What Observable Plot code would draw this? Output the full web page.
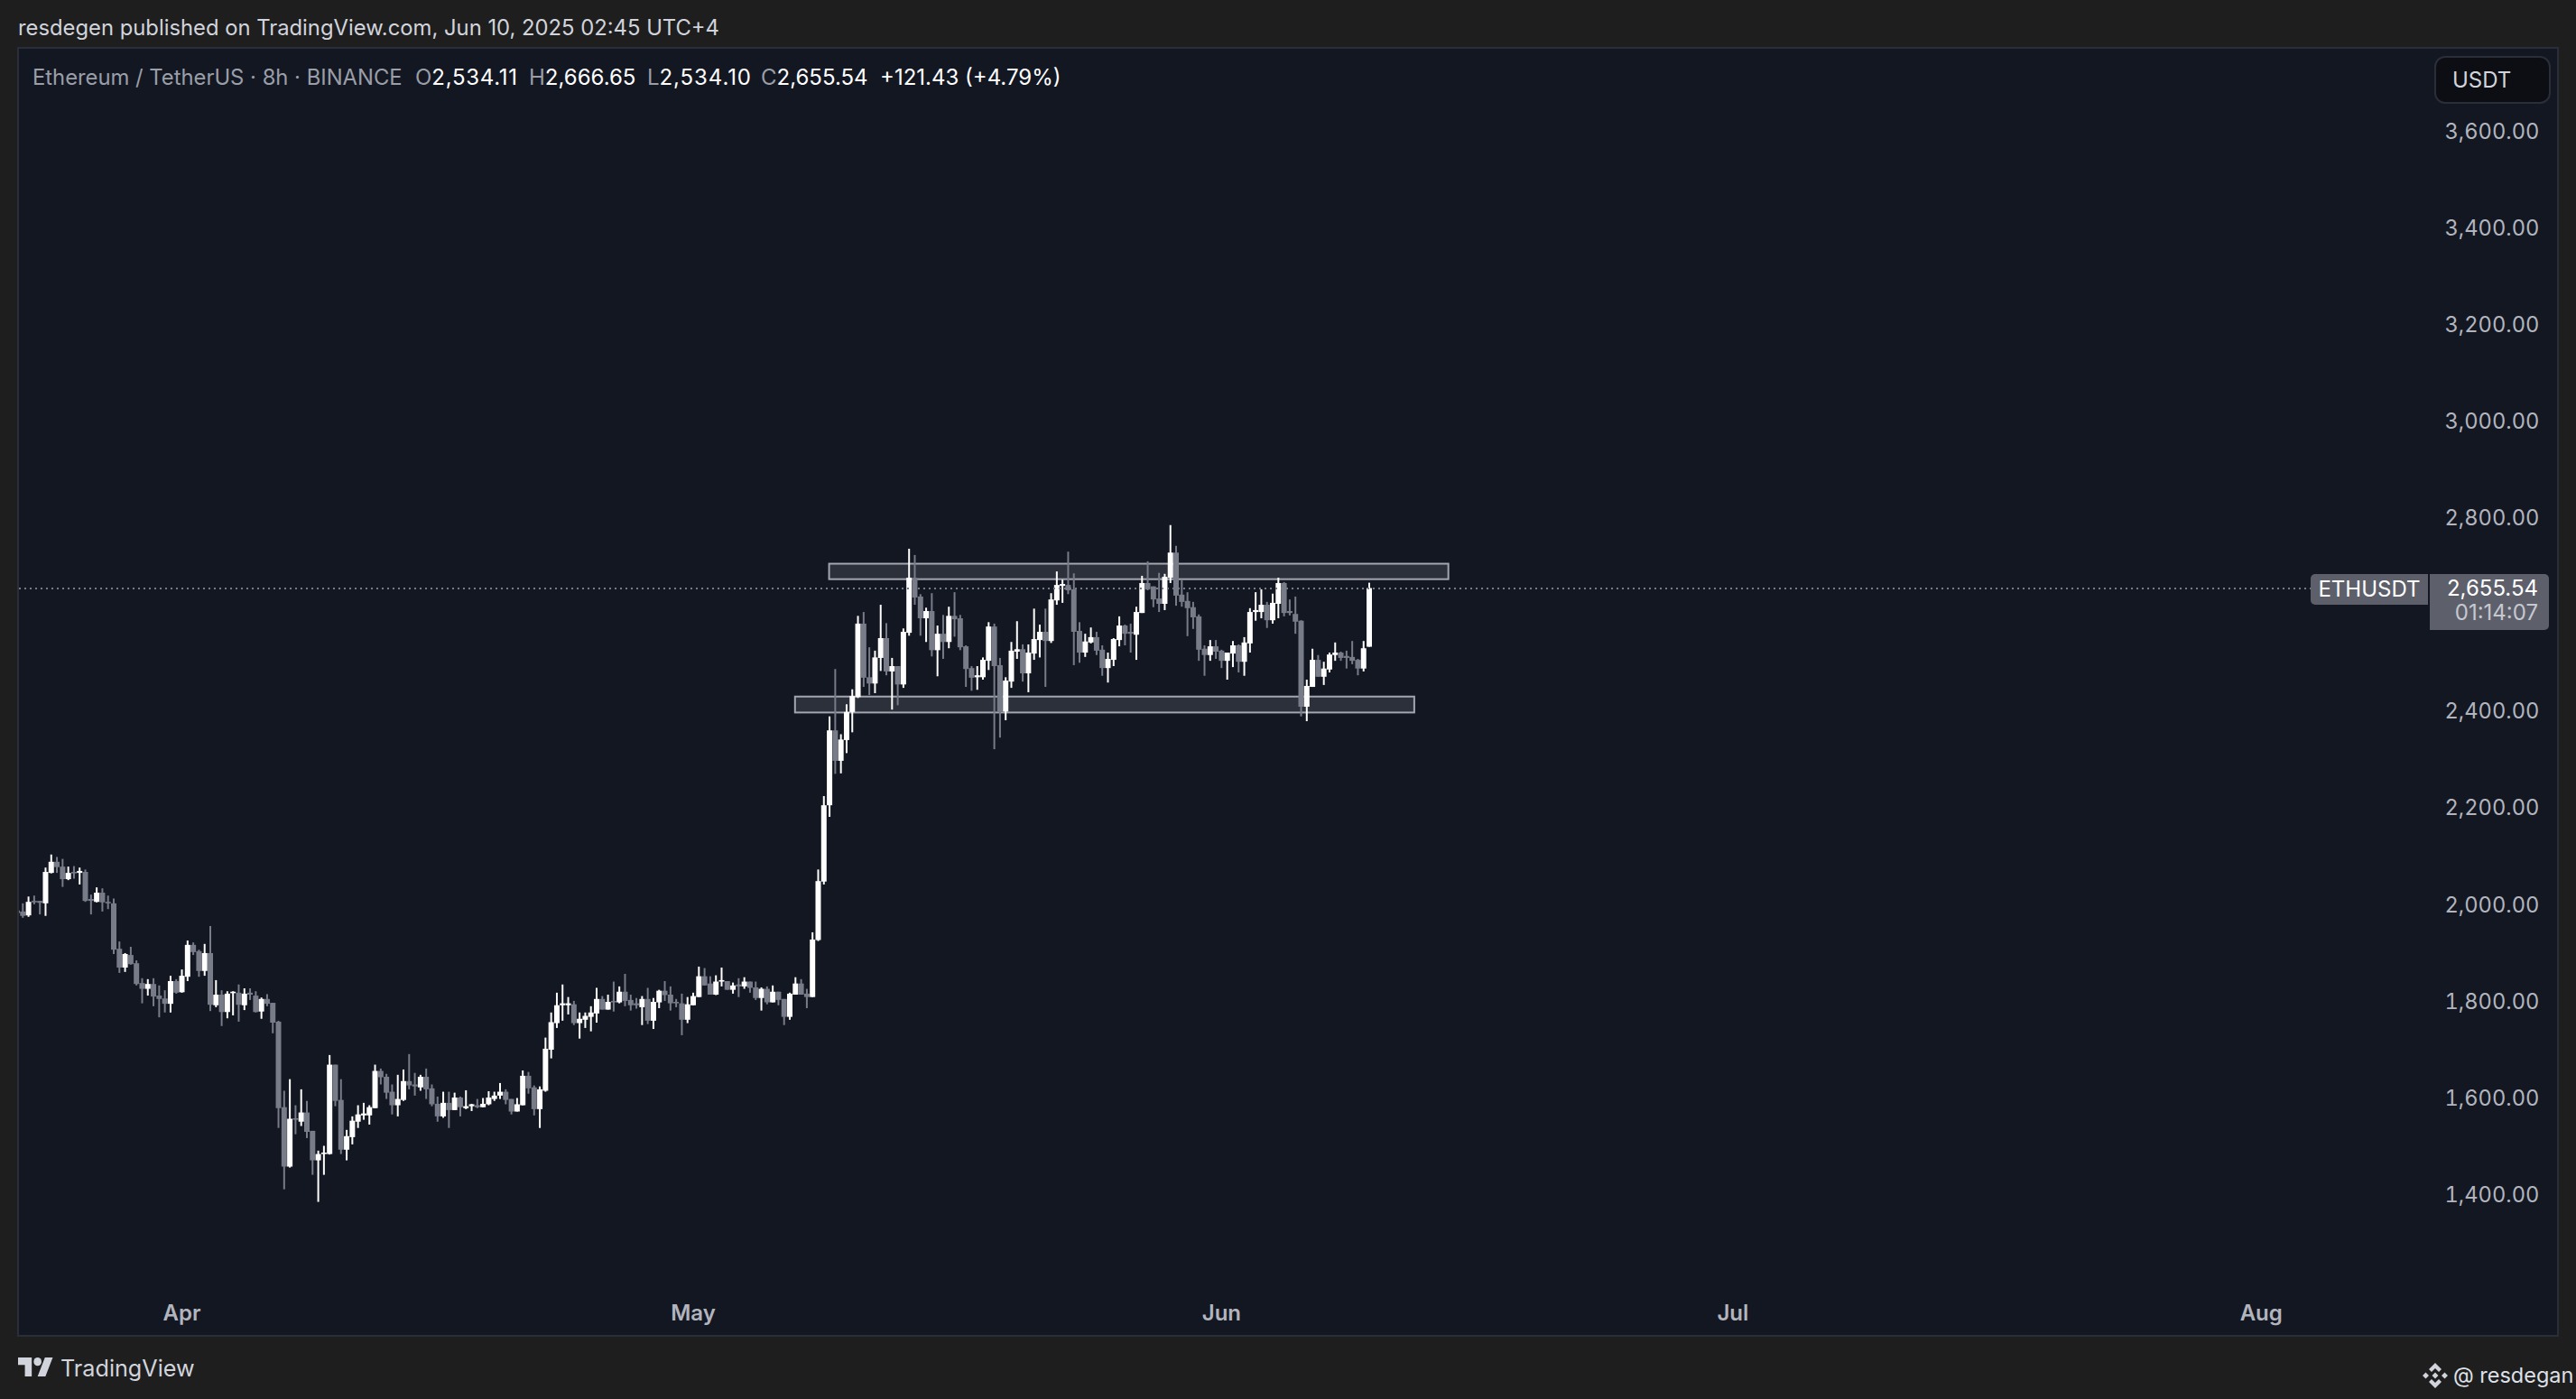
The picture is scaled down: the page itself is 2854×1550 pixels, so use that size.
<!DOCTYPE html>
<html>
<head>
<meta charset="utf-8">
<script src="https://cdn.jsdelivr.net/npm/d3@7"></script>
<script src="https://cdn.jsdelivr.net/npm/@observablehq/plot@0.6"></script>
<style>
html,body{margin:0;padding:0;background:#1e1e1e;width:2854px;height:1550px;overflow:hidden;font-family:Inter,"Liberation Sans",sans-serif;}
#panel{position:absolute;left:19px;top:52px;width:2812px;height:1425px;border:2px solid #2a2e39;background:#131722;}
#panel svg{display:block;}
.abs{position:absolute;white-space:nowrap;}
#pub{left:20px;top:16px;font-size:23.8px;line-height:30px;color:#d1d4dc;}
.leg{top:71px;font-size:24px;line-height:30px;color:#ffffff;}
.mut{color:#9a9ea8;}
#usdt{left:2697px;top:62px;width:125px;height:49px;border:2px solid #2a2e39;border-radius:12px;background:#0c0e13;color:#d1d4dc;font-size:24px;line-height:49px;text-indent:18px;}
#sym{left:2560px;top:636px;width:130px;height:34px;background:#5d606b;border-radius:5px 0 0 5px;color:#fff;font-size:24px;line-height:34px;text-align:center;}
#tag{left:2692px;top:636px;width:132px;height:62px;background:#5d606b;border-radius:0 5px 5px 0;}
#tag div{position:absolute;right:12px;font-size:24px;line-height:26px;}
#tv{left:67px;top:1499px;font-size:25.2px;line-height:34px;color:#d1d4dc;}
#who{left:2718px;top:1507px;font-size:23.5px;line-height:34px;color:#dfe1e8;}
</style>
</head>
<body>
<div class="abs" id="pub">resdegen published on TradingView.com, Jun 10, 2025 02:45 UTC+4</div>
<div id="panel"></div>
<div class="abs leg mut" style="left:36px;font-size:23.8px">Ethereum / TetherUS · 8h · BINANCE</div>
<div class="abs leg" style="left:460px"><span class="mut">O</span><span style="letter-spacing:.7px">2,534.11</span></div>
<div class="abs leg" style="left:586px"><span class="mut">H</span>2,666.65</div>
<div class="abs leg" style="left:717px"><span class="mut">L</span><span style="letter-spacing:.9px">2,534.10</span></div>
<div class="abs leg" style="left:843px"><span class="mut">C</span>2,655.54</div>
<div class="abs leg" style="left:975px">+121.43 (+4.79%)</div>
<div class="abs" id="usdt">USDT</div>
<div class="abs" id="sym">ETHUSDT</div>
<div class="abs" id="tag"><div style="top:3px;color:#fff">2,655.54</div><div style="top:30px;color:#c6c8d0">01:14:07</div></div>
<svg class="abs" style="left:20px;top:1504px" width="39" height="21" viewBox="0 4 36 18" preserveAspectRatio="none"><path fill="#d1d4dc" d="M14 22H7V11H0V4h14v18zM28 22h-8l7.5-18h8L28 22z"/><circle fill="#d1d4dc" cx="20" cy="8" r="4"/></svg>
<div class="abs" id="tv">TradingView</div>
<svg class="abs" style="left:2684px;top:1510px" width="28" height="28" viewBox="0 0 28 28"><path fill="#d1d4dc" d="M14 0 L21 7 L18 10 L14 6 L10 10 L7 7 Z M14 28 L7 21 L10 18 L14 22 L18 18 L21 21 Z M14 10.500 L17.500 14 L14 17.500 L10.500 14 Z M3.500 10.500 L7 14 L3.500 17.500 L0 14 Z M24.500 10.500 L28 14 L24.500 17.500 L21 14 Z"/></svg>
<div class="abs" id="who">@ resdegan</div>
<script>
const startTime = "2025-03-22T08:00:00Z";
const opens = [
1988,1986,1978,2008,2008,2003,2066,2089,2079,2053,
2068,2066,2068,2012,2006,2025,2006,2003,1909,1870,
1896,1879,1838,1826,1836,1812,1806,1795,1842,1819,
1851,1917,1904,1863,1900,1792,1814,1778,1817,1818,
1792,1818,1812,1779,1805,1797,1758,1581,1458,1558,
1551,1570,1532,1471,1484,1484,1669,1596,1493,1519,
1551,1564,1564,1579,1656,1644,1613,1585,1596,1635,
1628,1622,1644,1620,1588,1562,1590,1575,1601,1579,
1583,1585,1581,1587,1598,1605,1613,1598,1572,1585,
1646,1622,1577,1615,1700,1755,1792,1792,1794,1755,
1762,1768,1775,1805,1783,1801,1798,1820,1803,1796,
1788,1805,1760,1798,1822,1814,1799,1796,1762,1792,
1809,1852,1837,1814,1841,1842,1824,1835,1831,1841,
1829,1807,1826,1798,1820,1805,1768,1814,1837,1816,
1809,1927,2048,2206,2361,2298,2341,2399,2430,2582,
2471,2458,2511,2552,2483,2494,2456,2563,2677,2638,
2593,2608,2527,2561,2544,2598,2593,2535,2490,2471,
2471,2505,2576,2496,2400,2462,2524,2529,2479,2520,
2548,2565,2546,2630,2660,2662,2653,2567,2522,2543,
2554,2528,2490,2507,2548,2578,2565,2559,2604,2666,
2659,2634,2623,2677,2729,2642,2629,2616,2597,2530,
2517,2535,2526,2505,2520,2537,2503,2541,2606,2606,
2621,2589,2623,2666,2608,2602,2588,2410,2451,2507,
2472,2487,2517,2522,2515,2513,2507,2489,2534.11];
const highs = [
1990,2003,2017,2019,2008,2077,2104,2099,2095,2079,
2080,2077,2073,2021,2036,2034,2019,2013,1924,1900,
1913,1885,1848,1846,1848,1833,1823,1853,1846,1866,
1926,1922,1907,1919,1956,1844,1823,1821,1821,1835,
1827,1827,1821,1808,1815,1797,1760,1615,1639,1585,
1618,1594,1532,1491,1501,1689,1669,1639,1534,1562,
1585,1590,1585,1669,1661,1650,1628,1648,1659,1691,
1652,1648,1661,1628,1603,1613,1613,1611,1603,1616,
1588,1598,1600,1614,1613,1631,1618,1598,1600,1657,
1654,1626,1624,1725,1777,1818,1835,1809,1801,1777,
1777,1790,1828,1811,1814,1841,1831,1857,1814,1807,
1811,1828,1807,1824,1842,1831,1805,1816,1809,1818,
1872,1869,1852,1854,1870,1842,1839,1848,1850,1841,
1841,1829,1831,1833,1820,1805,1818,1850,1846,1826,
1943,2073,2225,2390,2488,2353,2415,2446,2598,2606,
2533,2526,2621,2583,2511,2494,2572,2737,2724,2643,
2615,2645,2578,2600,2617,2647,2600,2537,2494,2494,
2512,2585,2582,2511,2471,2544,2587,2539,2539,2613,
2580,2613,2645,2690,2673,2731,2686,2585,2561,2574,
2565,2537,2522,2552,2597,2580,2582,2617,2681,2711,
2659,2687,2685,2786,2743,2672,2647,2627,2601,2537,
2548,2548,2528,2522,2546,2539,2554,2614,2647,2653,
2627,2644,2677,2668,2632,2638,2589,2466,2530,2517,
2503,2522,2543,2524,2526,2546,2509,2546,2666.65];
const lows = [
1982,1973,1975,2001,1980,1977,2065,2066,2037,2051,
2054,2042,2006,1980,2005,1986,1991,1898,1859,1861,
1876,1833,1796,1812,1790,1767,1777,1777,1816,1818,
1842,1896,1851,1853,1780,1788,1749,1765,1771,1758,
1782,1803,1777,1764,1790,1734,1538,1411,1456,1525,
1542,1517,1441,1385,1441,1483,1583,1484,1471,1504,
1538,1555,1545,1579,1628,1598,1566,1562,1594,1618,
1605,1615,1598,1583,1551,1559,1538,1575,1562,1577,
1573,1579,1581,1585,1594,1598,1587,1566,1572,1585,
1609,1564,1538,1613,1682,1745,1760,1773,1751,1723,
1745,1738,1756,1783,1783,1779,1796,1790,1781,1785,
1751,1753,1743,1786,1801,1781,1788,1730,1755,1792,
1809,1833,1814,1813,1831,1824,1816,1809,1826,1818,
1803,1781,1794,1798,1792,1751,1762,1814,1814,1786,
1809,1925,2042,2182,2271,2272,2314,2357,2428,2451,
2434,2438,2484,2475,2404,2413,2449,2557,2621,2557,
2544,2514,2473,2509,2531,2555,2527,2451,2443,2445,
2466,2486,2322,2346,2382,2449,2509,2462,2440,2507,
2512,2451,2542,2621,2625,2643,2496,2501,2513,2541,
2517,2474,2460,2494,2535,2537,2522,2507,2604,2651,
2616,2606,2610,2666,2619,2617,2556,2571,2505,2474,
2505,2509,2490,2466,2492,2481,2474,2522,2588,2593,
2573,2582,2593,2597,2599,2561,2390,2380,2451,2472,
2455,2481,2505,2505,2489,2498,2475,2483,2534.10];
const closes = [
1983,1977,2006,2005,2004,2068,2089,2078,2053,2066,
2065,2070,2008,2008,2025,2005,2003,1907,1870,1898,
1877,1836,1826,1836,1810,1805,1795,1842,1818,1853,
1917,1902,1863,1900,1793,1814,1778,1816,1820,1793,
1816,1814,1778,1805,1795,1756,1579,1458,1557,1555,
1570,1530,1471,1484,1487,1669,1594,1493,1521,1553,
1566,1568,1581,1656,1643,1611,1585,1598,1635,1626,
1624,1644,1618,1587,1562,1590,1575,1601,1581,1583,
1587,1581,1588,1601,1605,1613,1596,1572,1587,1646,
1620,1577,1618,1702,1757,1792,1796,1796,1755,1764,
1770,1777,1805,1783,1799,1798,1820,1801,1792,1792,
1805,1760,1799,1822,1813,1796,1796,1762,1794,1811,
1852,1833,1814,1841,1844,1824,1833,1831,1841,1828,
1807,1826,1798,1820,1803,1768,1816,1837,1814,1809,
1928,2049,2206,2361,2298,2342,2399,2432,2582,2470,
2458,2512,2552,2483,2494,2456,2565,2677,2636,2593,
2608,2527,2561,2544,2598,2591,2533,2488,2470,2475,
2507,2576,2494,2399,2464,2526,2529,2479,2522,2550,
2565,2546,2632,2662,2664,2651,2565,2522,2545,2554,
2526,2490,2509,2550,2578,2561,2561,2606,2666,2653,
2632,2623,2679,2729,2640,2627,2614,2595,2528,2517,
2535,2524,2505,2522,2537,2503,2543,2606,2610,2621,
2589,2625,2666,2604,2604,2586,2410,2453,2507,2472,
2489,2518,2522,2511,2511,2505,2489,2531,2655.54];

const priceTicks = [1400,1600,1800,2000,2200,2400,2800,3000,3200,3400,3600];
const monthTicks = ["2025-04-01","2025-05-01","2025-06-01","2025-07-01","2025-08-01"].map(d => new Date(d + "T00:00:00Z"));
const zoneStarts = ["2025-05-09T00:00:00Z","2025-05-07T00:00:00Z"];
const zoneEnds   = ["2025-06-14T08:00:00Z","2025-06-12T08:00:00Z"];
const zoneTops   = [2706,2431];
const zoneBottoms= [2674,2398];
const lastClose = 2655.54;

const UP = "#ffffff", DOWN = "#787b88";
const start = new Date(startTime).getTime();
const candles = opens.map((o, i) => ({
  t: new Date(start + i * 8 * 3600 * 1000), o, h: highs[i], l: lows[i], c: closes[i],
  col: closes[i] >= o ? UP : DOWN
}));
const zones = zoneStarts.map((s, i) => ({x1: new Date(s), x2: new Date(zoneEnds[i]), y1: zoneBottoms[i], y2: zoneTops[i]}));

const chart = Plot.plot({
  width: 2812, height: 1425,
  marginLeft: 0, marginTop: 0, marginRight: 130, marginBottom: 50,
  style: {background: "transparent", fontFamily: "Inter, sans-serif", overflow: "hidden"},
  color: {type: "identity"},
  x: {type: "utc", domain: [new Date("2025-03-22T11:11:00Z"), new Date("2025-08-11T12:00:00Z")]},
  y: {type: "linear", domain: [1203, 3772]},
  marks: [
    Plot.rect(zones, {x1: "x1", x2: "x2", y1: "y1", y2: "y2", fill: "#787b86", fillOpacity: 0.25, stroke: "#a3a6af", strokeWidth: 2}),
    Plot.ruleX(candles, {x: "t", y1: "l", y2: "h", stroke: "col", strokeWidth: 2}),
    Plot.ruleX(candles, {x: "t", y1: "o", y2: "c", stroke: "col", strokeWidth: 6}),
    Plot.ruleY([lastClose], {x1: () => new Date("2025-03-22T11:11:00Z"), x2: () => new Date("2025-08-04T00:00:00Z"), stroke: "#787b86", strokeWidth: 2, strokeDasharray: "2 4"}),
    Plot.axisY(priceTicks, {anchor: "right", tickSize: 0, tickPadding: 5, label: null, fontSize: 23.7, fill: "#b2b5be", tickFormat: d3.format(",.2f")}),
    Plot.axisX(monthTicks, {anchor: "bottom", tickSize: 0, tickPadding: 16, label: null, fontSize: 24, fontWeight: 600, fill: "#b2b5be", tickFormat: d3.utcFormat("%b")})
  ]
});
document.getElementById("panel").appendChild(chart);
</script>
</body>
</html>
